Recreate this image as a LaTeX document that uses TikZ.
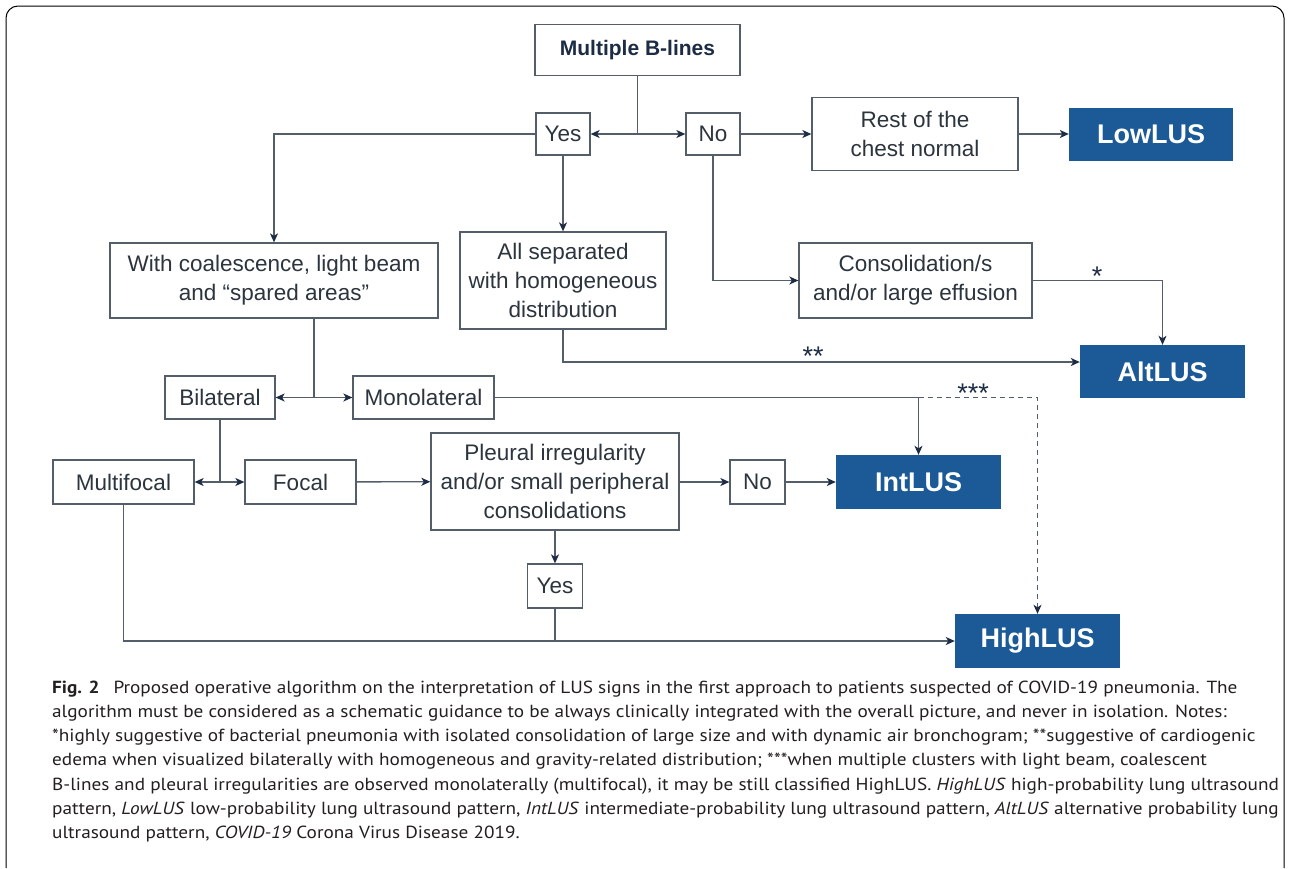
\documentclass[tikz,border=0pt]{standalone}
\usepackage{fontspec}
\setmainfont{Liberation Sans}
\newfontfamily\capfont[FakeStretch=1.1]{PT Sans}
\usetikzlibrary{arrows.meta}
\definecolor{lusblue}{RGB}{27,90,150}
\definecolor{linegray}{RGB}{84,94,106}
\definecolor{navy}{RGB}{28,44,68}
\definecolor{boxtext}{RGB}{44,52,62}
\definecolor{captext}{RGB}{35,31,32}
\begin{document}
\begin{tikzpicture}[x=1pt,y=-1pt,
  bx/.style 2 args={draw=linegray,line width=1.3pt,fill=white,text=boxtext,
    font=\fontsize{22.5}{29}\selectfont,align=center,inner sep=0pt,
    minimum width=#1,minimum height=#2},
  res/.style 2 args={fill=lusblue,draw=none,text=white,
    font=\bfseries\fontsize{27}{32}\selectfont,inner sep=0pt,
    minimum width=#1,minimum height=#2},
  ln/.style={draw=linegray,line width=1.3pt},
  ar/.style={ln,-{Stealth[length=9pt,width=8pt,inset=2.5pt,color=navy]}},
  dar/.style={ar,dash pattern=on 5pt off 4pt},
  star/.style={text=navy,font=\fontsize{27}{28}\selectfont,inner sep=0pt},
  capline/.style={anchor=base west,inner sep=0pt,text=captext,
    font=\capfont\fontsize{17.5}{24}\selectfont}]
\useasboundingbox (0,0) rectangle (1290,868);
\fill[white] (0,0) rectangle (1290,868);
\draw[line width=1pt,rounded corners=12pt] (6,868) -- (6,6) -- (1284,6) -- (1284,868);

% nodes
\node[bx={205pt}{51pt},font=\bfseries\fontsize{21}{26}\selectfont,text=navy] (mbl) at (637.5,50) {Multiple B-lines};
\node[bx={54pt}{42pt}] (yes1) at (563,134) {Yes};
\node[bx={54pt}{42pt}] (no1) at (713,134) {No};
\node[bx={206pt}{73pt}] (rest) at (915,134) {Rest of the\\chest normal};
\node[res={164pt}{53pt}] (lowlus) at (1151,134) {LowLUS};
\node[bx={328pt}{75pt}] (withc) at (274,280.5) {With coalescence, light beam\\and “spared areas"};
\node[bx={206pt}{97pt}] (allsep) at (563,280.5) {All separated\\with homogeneous\\distribution};
\node[bx={233pt}{75pt}] (consol) at (915.5,280.5) {Consolidation/s\\and/or large effusion};
\node[res={165pt}{53pt}] (altlus) at (1162.5,371.5) {AltLUS};
\node[bx={110pt}{43pt}] (bilat) at (220,397.5) {Bilateral};
\node[bx={141pt}{43pt}] (monol) at (423.5,397.5) {Monolateral};
\node[bx={141pt}{44pt}] (multif) at (123.5,482) {Multifocal};
\node[bx={111pt}{44pt}] (focal) at (300.5,482) {Focal};
\node[bx={248pt}{97pt}] (pleural) at (555,481.5) {Pleural irregularity\\and/or small peripheral\\consolidations};
\node[bx={55pt}{44pt}] (no2) at (757.5,482) {No};
\node[res={165pt}{54pt}] (intlus) at (918.5,482) {IntLUS};
\node[bx={55pt}{44pt}] (yes2) at (555,586) {Yes};
\node[res={165pt}{54pt}] (highlus) at (1037.5,641) {HighLUS};

% junctions
\coordinate (j1) at (637.5,134);
\coordinate (j2) at (314,397.5);
\coordinate (j4) at (220,482);

% connectors
\draw[ln] (mbl) -- (j1);
\draw[ar] (j1) -- (yes1);
\draw[ar] (j1) -- (no1);
\draw[ar] (yes1.west) -| (withc.north);
\draw[ar] (yes1) -- (allsep);
\draw[ar] (no1) -- (rest);
\draw[ar] (rest) -- (lowlus);
\draw[ar] (no1.south) |- (consol.west);
\draw[ar] (consol.east) -| (altlus.north);
\draw[ar] (allsep.south) |- ([yshift=9.5pt]altlus.west);
\draw[ln] (withc.south -| j2) -- (j2);
\draw[ar] (j2) -- (bilat);
\draw[ar] (j2) -- (monol);
\draw[ar] (monol.east) -| (intlus.north);
\draw[dar] (intlus.north |- monol.east) -| (highlus.north);
\draw[ln] (bilat.south) -- (j4);
\draw[ar] (j4) -- (multif);
\draw[ar] (j4) -- (focal);
\draw[ar] (focal) -- (pleural);
\draw[ar] (pleural.east |- no2.west) -- (no2);
\draw[ar] (no2) -- (intlus);
\draw[ar] (pleural) -- (yes2);
\draw[ar] (multif.south) |- (highlus.west);
\draw[ln] (yes2.south) -- (yes2.south |- highlus.west);

% notes on connectors
\node[star] (s1) at (1097,276) {*};
\node[star] (s2) at (813,356) {**};
\node[star] (s3) at (973,393) {***};

% caption
\node[capline] (c1) at (52,693) {\textbf{Fig. 2}\enspace\ Proposed operative algorithm on the interpretation of LUS signs in the first approach to patients suspected of COVID-19 pneumonia. The};
\node[capline] (c2) at (52,717.3) {algorithm must be considered as a schematic guidance to be always clinically integrated with the overall picture, and never in isolation. Notes:};
\node[capline] (c3) at (52,741.6) {*highly suggestive of bacterial pneumonia with isolated consolidation of large size and with dynamic air bronchogram; **suggestive of cardiogenic};
\node[capline] (c4) at (52,765.9) {edema when visualized bilaterally with homogeneous and gravity-related distribution; ***when multiple clusters with light beam, coalescent};
\node[capline] (c5) at (52,790.2) {B-lines and pleural irregularities are observed monolaterally (multifocal), it may be still classified HighLUS. \textit{HighLUS} high-probability lung ultrasound};
\node[capline] (c6) at (52,814.5) {pattern, \textit{LowLUS} low-probability lung ultrasound pattern, \textit{IntLUS} intermediate-probability lung ultrasound pattern, \textit{AltLUS} alternative probability lung};
\node[capline] (c7) at (52,838.8) {ultrasound pattern, \textit{COVID-19} Corona Virus Disease 2019.};
\end{tikzpicture}
\end{document}
